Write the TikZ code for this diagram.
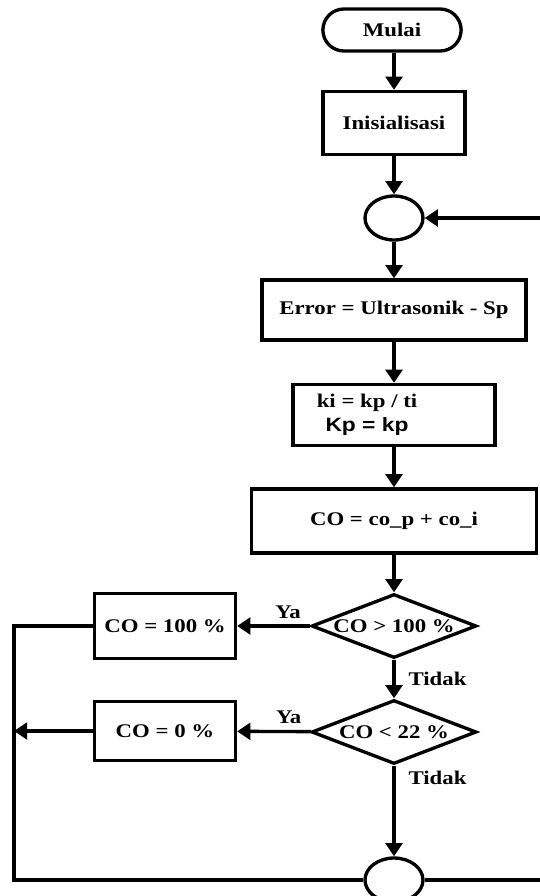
\documentclass[tikz,border=0pt]{standalone}
\usepackage{fontspec}
\setmainfont{Liberation Serif}[FakeStretch=1.18]
\setsansfont{Liberation Sans}[FakeStretch=1.18]
\usetikzlibrary{arrows.meta,shapes.geometric,shapes.misc}

\begin{document}
\begin{tikzpicture}[x=0.02cm,y=-0.02cm,font=\fontsize{11}{13}\selectfont\bfseries,line width=1.9pt,
  arr/.style={-{Triangle[length=7.5pt,width=9.5pt]}},
  proc/.style={draw,rectangle,inner sep=2pt},
  term/.style={draw,rounded rectangle,minimum width=3.0cm,minimum height=0.84cm},
  conn/.style={draw,ellipse,minimum width=1.16cm,minimum height=0.88cm,inner sep=0pt},
  dec/.style={draw,diamond,aspect=2.6,minimum width=3.3cm,minimum height=1.28cm,inner sep=0pt}]
\clip (0,0) rectangle (540,896);

\node[term] (mulai) at (392,30) {Mulai};
\node[proc,minimum width=2.84cm,minimum height=1.26cm] (init) at (394,123) {Inisialisasi};
\node[conn] (con1) at (394,218) {};
\node[proc,minimum width=5.28cm,minimum height=1.2cm] (err) at (394,310) {Error = Ultrasonik - Sp};
\node[proc,minimum width=4.04cm,minimum height=1.22cm] (kikp) at (394,415)
  {\begin{tabular}{@{}c@{}}ki = kp / ti\\[1pt]{\sffamily Kp = kp}\end{tabular}\kern1.08cm};
\node[proc,minimum width=5.7cm,minimum height=1.28cm] (co) at (394,521) {CO = co\_p + co\_i};
\node[dec] (cek1) at (394,626) {CO > 100 \%};
\node[dec] (cek2) at (394,732) {CO < 22 \%};
\node[proc,minimum width=2.82cm,minimum height=1.3cm] (co100) at (165,626) {CO = 100 \%};
\node[proc,minimum width=2.82cm,minimum height=1.18cm] (co0) at (165,731) {CO = 0 \%};
\node[conn] (con2) at (394,880) {};

\coordinate (kanan1) at (540,218);
\coordinate (kanan2) at (540,880);
\coordinate (kiri1) at (14,626);
\coordinate (kiri2) at (14,731);
\coordinate (kiri3) at (14,880);

\draw[arr] (mulai.south -| init.north) -- (init);
\draw[arr] (init) -- (con1);
\draw[arr] (kanan1) -- (con1);
\draw[arr] (con1) -- (err);
\draw[arr] (err) -- (kikp);
\draw[arr] (kikp) -- (co);
\draw[arr] (co) -- (cek1);
\draw[arr] (cek1) -- node[pos=0.3,above] (ya1) {Ya} (co100);
\draw[arr] (cek1) -- node[right=4pt] (tidak1) {Tidak} (cek2);
\draw[arr] (cek2) -- node[pos=0.3,above] (ya2) {Ya} (co0);
\draw[arr] (cek2) -- node[pos=0.13,right=4pt] (tidak2) {Tidak} (con2);
\draw[arr] (co0) -- (kiri2);
\draw (co100) -- (kiri1) -- (kiri3) -- (con2);
\draw (con2) -- (kanan2);
\end{tikzpicture}
\end{document}
